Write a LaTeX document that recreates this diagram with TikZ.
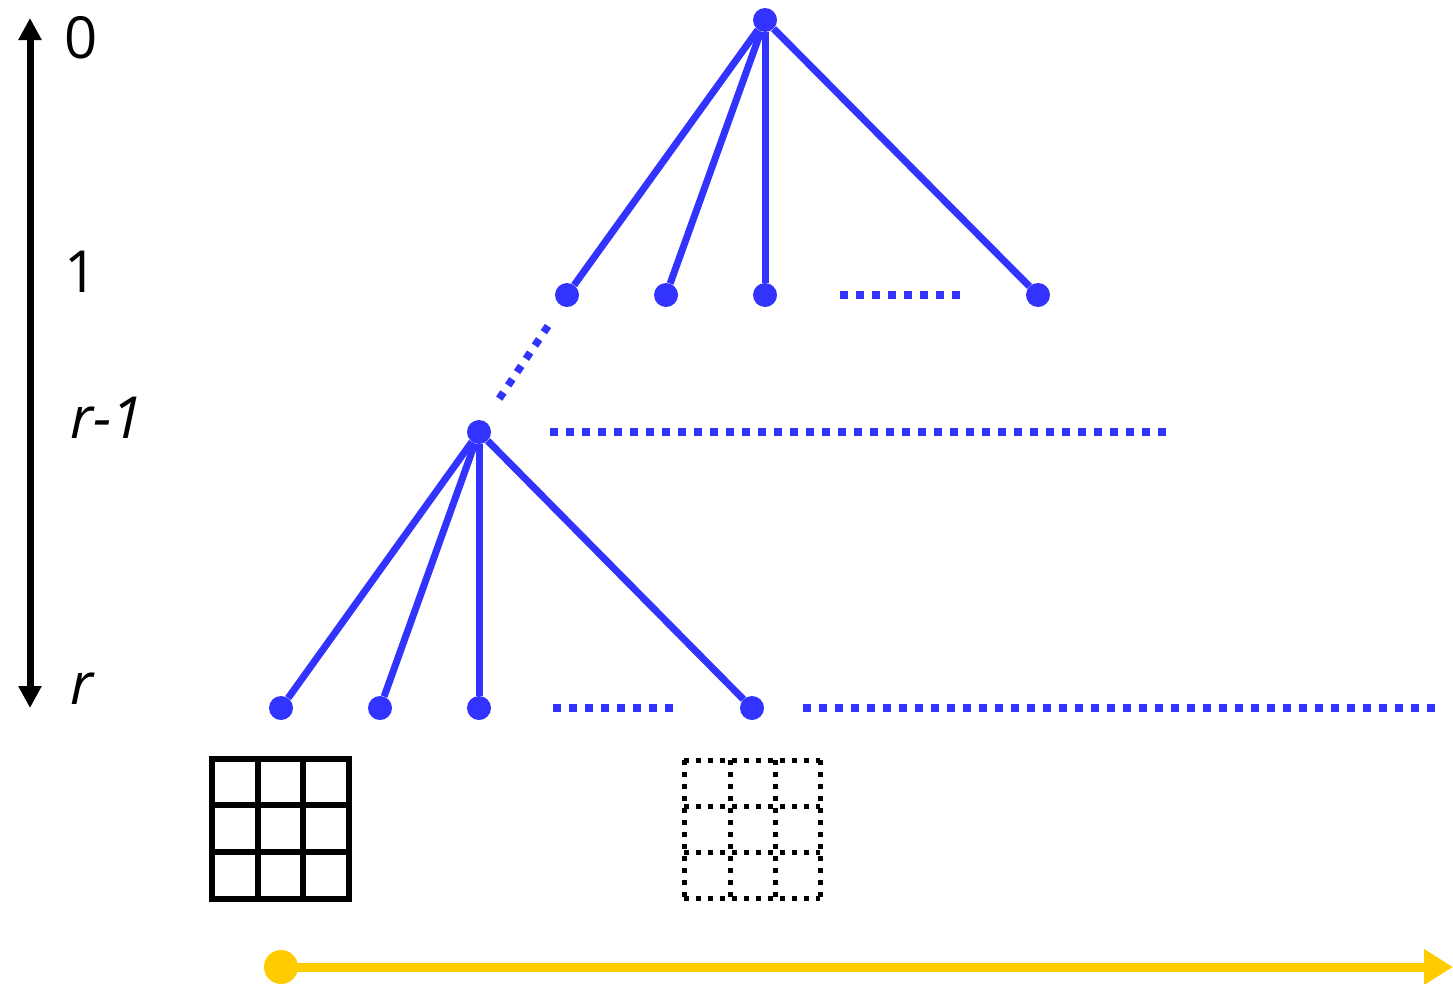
\documentclass[tikz,border=0pt]{standalone}
\usepackage{fontspec}
\setmainfont{Open Sans}
\usetikzlibrary{arrows.meta}
\definecolor{treeblue}{HTML}{3333FF}
\definecolor{timegold}{HTML}{FFCC00}
\tikzset{
  vtx/.style={circle, fill=treeblue, inner sep=0pt, minimum size=24pt},
  edge/.style={draw=treeblue, line width=7pt},
  more/.style={draw=treeblue, line width=7.5pt, dash pattern=on 7.5pt off 8.5pt},
  lvl/.style={font=\fontsize{58}{60}\selectfont, inner sep=0pt},
  cell/.style={line width=6pt},
  ghost/.style={line width=5pt, dash pattern=on 5pt off 7pt},
}
\begin{document}
\begin{tikzpicture}[x=1pt, y=-1pt]
  \useasboundingbox (0,0) rectangle (1453,983);

  % depth axis
  \coordinate (axtop) at (30,18);
  \coordinate (axbot) at (30,708);
  \draw[line width=7pt, {Triangle[length=22pt,width=22pt]}-{Triangle[length=22pt,width=22pt]}] (axtop) -- (axbot);
  \node[lvl] (l0) at (81,38) {0};
  \node[lvl] (l1) at (81,272) {1};
  \node[lvl, font=\fontsize{58}{60}\selectfont\itshape] (lr1) at (107,418) {r-1};
  \node[lvl, font=\fontsize{58}{60}\selectfont\itshape] (lr) at (82,689) {r};

  % top of the tree
  \node[vtx] (root) at (765,20) {};
  \node[vtx] (a1) at (567,295) {};
  \node[vtx] (a2) at (666,295) {};
  \node[vtx] (a3) at (765,295) {};
  \node[vtx] (a4) at (1038,295) {};
  \foreach \c in {a1,a2,a3,a4} \draw[edge] (root) -- (\c);
  \coordinate (d1s) at (840,295);
  \coordinate (d1e) at (960,295);
  \draw[more] (d1s) -- (d1e);

  % path down to level r-1
  \coordinate (d2s) at (548,326);
  \coordinate (d2e) at (497,402);
  \draw[more] (d2s) -- (d2e);

  \node[vtx] (m) at (479,432) {};
  \coordinate (d3s) at (550,432);
  \coordinate (d3e) at (1166,432);
  \draw[more] (d3s) -- (d3e);

  % leaves at level r
  \node[vtx] (b1) at (281,708) {};
  \node[vtx] (b2) at (380,708) {};
  \node[vtx] (b3) at (479,708) {};
  \node[vtx] (b4) at (752,708) {};
  \foreach \c in {b1,b2,b3,b4} \draw[edge] (m) -- (\c);
  \coordinate (d4s) at (553,708);
  \coordinate (d4e) at (673,708);
  \draw[more] (d4s) -- (d4e);
  \coordinate (d5s) at (803,708);
  \coordinate (d5e) at (1437,708);
  \draw[more] (d5s) -- (d5e);

  % solid 3x3 block
  \foreach \x in {212,258,303,349} \draw[cell] (\x,756) -- (\x,902);
  \foreach \y in {759,805,852,899} \draw[cell] (209,\y) -- (352,\y);

  % dotted 3x3 block
  \foreach \x in {684,730,775,820} \draw[ghost] (\x,760) -- (\x,898);
  \foreach \y in {760,806,852,898} \draw[ghost] (684,\y) -- (820,\y);

  % time arrow
  \node[circle, fill=timegold, inner sep=0pt, minimum size=34pt] (t0) at (281,967) {};
  \coordinate (t1) at (1453,967);
  \draw[draw=timegold, line width=9pt, -{Triangle[length=29pt,width=34pt]}, timegold] (t0.center) -- (t1);
\end{tikzpicture}
\end{document}
